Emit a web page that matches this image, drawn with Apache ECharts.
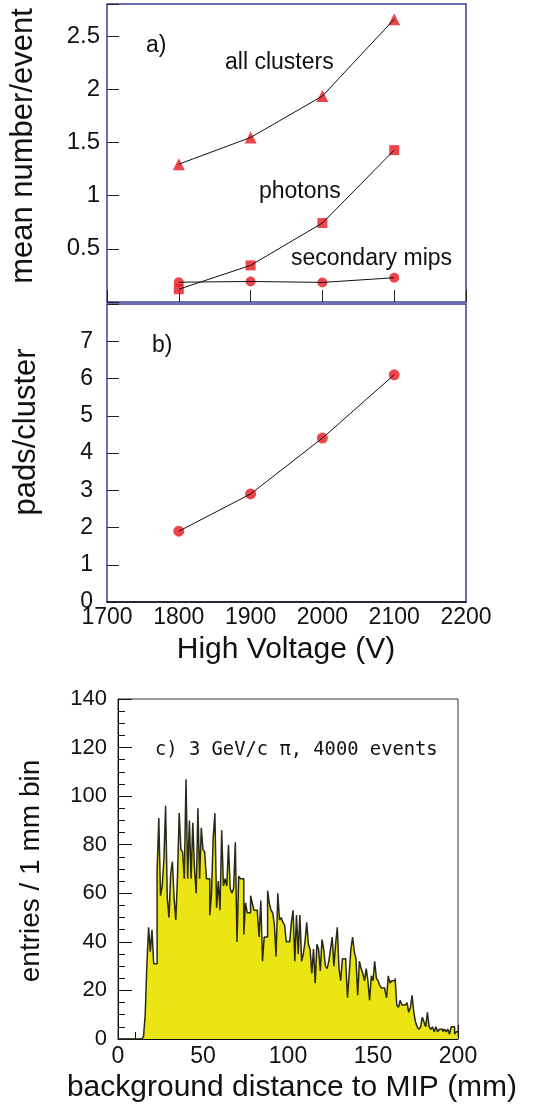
<!DOCTYPE html>
<html><head><meta charset="utf-8">
<script src="https://cdn.jsdelivr.net/npm/echarts@6/dist/echarts.min.js"></script>
<style>html,body{margin:0;padding:0;background:#fff}#c{width:533px;height:1112px}</style>
</head><body><div id="c"></div>
<script>
// ---- data ----
const voltages = [1800, 1900, 2000, 2100];
const allClusters = [1.295, 1.546, 1.935, 2.657];
const photons = [0.12, 0.344, 0.742, 1.427];
const secondaryMips = [0.186, 0.193, 0.184, 0.228];
const padsPerCluster = [1.9, 2.9, 4.4, 6.1];
const yTicksA = [0.5, 1, 1.5, 2, 2.5];
const yTicksB = [0, 1, 2, 3, 4, 5, 6, 7];
// histogram: entries per 1 mm bin, bins 0..199
const histCounts = [
  0,0,0,0,0,0,0,0,0,0, 0,0,0,0,0,1,10,31,46,36,
  45,31,31,69,91,59,63,74,96,58, 50,68,73,58,49,67,93,78,77,66,
  107,66,90,66,89,70,60,95,66,87, 78,77,66,66,51,60,83,93,54,65,
  53,86,63,66,63,80,62,60,62,81, 40,67,66,66,43,56,52,52,59,56,
  53,53,52,42,57,32,42,42,61,56, 53,52,47,34,60,49,50,48,47,40,
  40,40,48,53,32,51,35,51,32,35, 40,48,39,37,27,37,23,39,37,28,
  41,37,30,29,32,37,42,30,39,46, 29,24,33,33,31,17,27,37,42,36,
  33,18,32,29,27,24,29,24,16,26, 24,32,25,24,22,21,21,20,17,26,
  23,24,24,25,14,13,16,14,14,14, 15,11,13,18,11,7,5,4,5,9,
  7,5,11,5,4,5,3,5,3,4, 4,3,4,3,4,2,5,5,2,3
];

// ---- build ----
const FONT = '"Liberation Sans", Arial, Helvetica, sans-serif';
const NAVY = '#3d3d99';
const RED = '#e8161f';
const pairs = (xs, ys) => xs.map((x, i) => [x, ys[i]]);
const histData = histCounts.map((v, i) => [i, v]);
histData.push([histCounts.length, histCounts[histCounts.length - 1]]);

const chart = echarts.init(document.getElementById('c'), null, {renderer: 'canvas'});

function markerSeries(data, symbol, size, xi) {
  return [
    {type: 'scatter', xAxisIndex: xi, yAxisIndex: xi, data, symbol, symbolSize: size,
     itemStyle: {color: RED}, z: 2, silent: true},
    {type: 'line', xAxisIndex: xi, yAxisIndex: xi, data, symbol: 'none',
     lineStyle: {color: '#111', width: 1}, z: 3, silent: true}
  ];
}

const tickLbl = {fontFamily: FONT, fontSize: 23, color: '#111'};

const option = {
  animation: false,
  backgroundColor: '#fff',
  grid: [
    {left: 107, top: 4, width: 359, height: 298, show: true, borderColor: NAVY, borderWidth: 1.5},
    {left: 107, top: 304, width: 359, height: 298, show: true, borderColor: NAVY, borderWidth: 1.5},
    {left: 118, top: 699, width: 340, height: 340, show: true, borderColor: '#333', borderWidth: 1}
  ],
  xAxis: [
    {type: 'value', gridIndex: 0, min: 1700, max: 2200, interval: 100,
     axisLine: {show: false}, splitLine: {show: false},
     axisTick: {inside: true, length: 12, lineStyle: {color: '#222', width: 1}},
     axisLabel: {show: false}},
    {type: 'value', gridIndex: 1, min: 1700, max: 2200, interval: 100,
     axisLine: {show: true, lineStyle: {color: '#111', width: 1.5}}, splitLine: {show: false},
     axisTick: {show: false},
     axisLabel: Object.assign({}, tickLbl, {margin: 4, formatter: v => String(v)})},
    {type: 'value', gridIndex: 2, min: 0, max: 200, interval: 50,
     axisLine: {show: true, lineStyle: {color: '#111', width: 1}}, splitLine: {show: false},
     axisTick: {inside: true, length: 14, lineStyle: {color: '#111'}},
     minorTick: {show: true, splitNumber: 5, length: 7, lineStyle: {color: '#111'}},
     axisLabel: Object.assign({}, tickLbl, {margin: 6, formatter: v => String(v)})}
  ],
  yAxis: [
    {type: 'value', gridIndex: 0, min: 0, max: 2.8, interval: 0.5,
     axisLine: {show: false}, splitLine: {show: false},
     axisTick: {inside: true, length: 12, lineStyle: {color: '#222', width: 1}},
     axisLabel: Object.assign({}, tickLbl, {fontSize: 24, margin: 7,
       formatter: v => yTicksA.some(t => Math.abs(t - v) < 1e-6) ? String(v) : ''})},
    {type: 'value', gridIndex: 1, min: 0, max: 8, interval: 1,
     axisLine: {show: false}, splitLine: {show: false},
     axisTick: {inside: true, length: 12, lineStyle: {color: '#222', width: 1}},
     axisLabel: Object.assign({}, tickLbl, {margin: 14, padding: [0, 0, 12, 0],
       formatter: v => yTicksB.indexOf(v) >= 0 ? String(v) : ''})},
    {type: 'value', gridIndex: 2, min: 0, max: 140, interval: 20,
     axisLine: {show: true, lineStyle: {color: '#111', width: 1}}, splitLine: {show: false},
     axisTick: {inside: true, length: 14, lineStyle: {color: '#111'}},
     minorTick: {show: true, splitNumber: 4, length: 7, lineStyle: {color: '#111'}},
     axisLabel: Object.assign({}, tickLbl, {fontSize: 22, margin: 11})}
  ],
  series: [
    ...markerSeries(pairs(voltages, allClusters), 'triangle', 12, 0),
    ...markerSeries(pairs(voltages, photons), 'rect', 10, 0),
    ...markerSeries(pairs(voltages, secondaryMips), 'circle', 10, 0),
    ...markerSeries(pairs(voltages, padsPerCluster), 'circle', 11, 1),
    {type: 'line', xAxisIndex: 2, yAxisIndex: 2, data: histData, step: 'end', symbol: 'none',
     lineStyle: {color: '#2a2a1a', width: 1.5}, areaStyle: {color: '#ebe514', opacity: 1}, z: 1, silent: true}
  ],
  graphic: [
    {type: 'text', x: 23, y: 146, rotation: Math.PI / 2,
     style: {text: 'mean number/event', fontFamily: FONT, fontSize: 31, fill: '#111', align: 'center', verticalAlign: 'middle'}},
    {type: 'text', x: 146, y: 46,
     style: {text: 'a)', fontFamily: FONT, fontSize: 23, fill: '#111', align: 'left', verticalAlign: 'middle'}},
    {type: 'text', x: 225, y: 63,
     style: {text: 'all clusters', fontFamily: FONT, fontSize: 23, fill: '#111', align: 'left', verticalAlign: 'middle'}},
    {type: 'text', x: 259, y: 192,
     style: {text: 'photons', fontFamily: FONT, fontSize: 23, fill: '#111', align: 'left', verticalAlign: 'middle'}},
    {type: 'text', x: 291, y: 259,
     style: {text: 'secondary mips', fontFamily: FONT, fontSize: 23, fill: '#111', align: 'left', verticalAlign: 'middle'}},
    {type: 'text', x: 152, y: 346,
     style: {text: 'b)', fontFamily: FONT, fontSize: 23, fill: '#111', align: 'left', verticalAlign: 'middle'}},
    {type: 'text', x: 26, y: 432, rotation: Math.PI / 2,
     style: {text: 'pads/cluster', fontFamily: FONT, fontSize: 31, fill: '#111', align: 'center', verticalAlign: 'middle'}},
    {type: 'text', x: 286, y: 650,
     style: {text: 'High Voltage (V)', fontFamily: FONT, fontSize: 30, fill: '#111', align: 'center', verticalAlign: 'middle'}},
    {type: 'text', x: 155, y: 750,
     style: {text: 'c) 3 GeV/c π, 4000 events', fontFamily: '"DejaVu Sans Mono", monospace', fontSize: 18.8, fill: '#111', align: 'left', verticalAlign: 'middle'}},
    {type: 'text', x: 31, y: 871, rotation: Math.PI / 2,
     style: {text: 'entries / 1 mm bin', fontFamily: FONT, fontSize: 28, fill: '#111', align: 'center', verticalAlign: 'middle'}},
    {type: 'text', x: 292, y: 1088,
     style: {text: 'background distance to MIP (mm)', fontFamily: FONT, fontSize: 30, fill: '#111', align: 'center', verticalAlign: 'middle'}}
  ]
};
chart.setOption(option);
</script>
</body></html>
